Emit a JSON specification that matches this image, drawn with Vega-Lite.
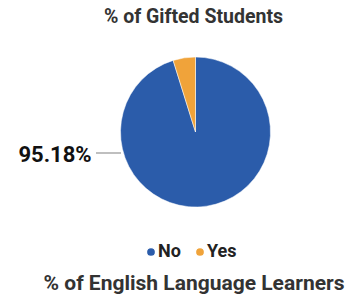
{
  "$schema": "https://vega.github.io/schema/vega-lite/v6.json",
  "width": 357,
  "height": 271,
  "autosize": "none",
  "padding": {"left": 0, "top": 30, "right": 0, "bottom": 0},
  "background": "white",
  "config": {"view": {"stroke": null}, "font": "Roboto"},
  "title": {"text": "% of Gifted Students", "anchor": "middle", "dx": 15, "offset": 3, "fontSize": 19.5, "font": "Roboto", "fontWeight": "bold", "color": "#333333"},
  "layer": [
    {
      "data": {"values": [{"category": "No", "pct": 95.18}, {"category": "Yes", "pct": 4.82}]},
      "mark": {"type": "arc", "outerRadius": 75, "stroke": "white", "strokeWidth": 0.5},
      "encoding": {
        "x": {"datum": 0, "type": "quantitative", "scale": {"domain": [-2.6067, 2.1533], "zero": false, "nice": false}, "axis": null},
        "y": {"datum": 0, "type": "quantitative", "scale": {"domain": [-2.2533, 1.36], "zero": false, "nice": false}, "axis": null},
        "theta": {"field": "pct", "type": "quantitative", "stack": true},
        "order": {"field": "category", "sort": "ascending"},
        "color": {
          "field": "category", "type": "nominal",
          "scale": {"domain": ["No", "Yes"], "range": ["#2B5CAA", "#F0A33A"]},
          "legend": {"title": null, "orient": "none", "direction": "horizontal", "legendX": 142, "legendY": 213, "symbolType": "circle", "symbolSize": 85, "labelFontSize": 18, "labelFont": "Roboto", "labelFontWeight": "bold", "labelColor": "#222222", "columnPadding": 10, "labelOffset": -2}
        }
      }
    },
    {
      "data": {"values": [{"x1": -1.327, "x2": -0.993, "y": -0.28}]},
      "mark": {"type": "rule", "color": "#AAAAAA", "strokeWidth": 1.5},
      "encoding": {
        "x": {"field": "x1", "type": "quantitative"},
        "x2": {"field": "x2"},
        "y": {"field": "y", "type": "quantitative"}
      }
    },
    {
      "data": {"values": [{"label": "95.18%", "x": -1.873, "y": -0.3067}]},
      "mark": {"type": "text", "font": "Roboto", "fontWeight": "bold", "fontSize": 22, "color": "#111111", "align": "center", "baseline": "middle"},
      "encoding": {
        "x": {"field": "x", "type": "quantitative"},
        "y": {"field": "y", "type": "quantitative"},
        "text": {"field": "label"}
      }
    },
    {
      "data": {"values": [{"label": "% of English Language Learners", "x": -0.02, "y": -2.027}]},
      "mark": {"type": "text", "font": "Roboto", "fontWeight": "bold", "fontSize": 21, "color": "#333333", "align": "center", "baseline": "middle"},
      "encoding": {
        "x": {"field": "x", "type": "quantitative"},
        "y": {"field": "y", "type": "quantitative"},
        "text": {"field": "label"}
      }
    }
  ]
}
